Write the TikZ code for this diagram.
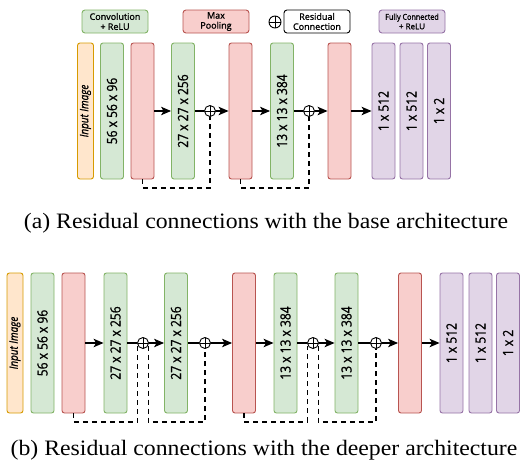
\documentclass[tikz,border=0pt]{standalone}
\usepackage{fontspec}
\usepackage{graphicx}
\setmainfont{Liberation Serif}
\newfontfamily\boxfont[FakeBold=1.2]{Open Sans}
\usetikzlibrary{arrows.meta,calc}
\definecolor{gfill}{HTML}{D5E8D4}\definecolor{gdraw}{HTML}{82B366}
\definecolor{rfill}{HTML}{F8CECC}\definecolor{rdraw}{HTML}{B85450}
\definecolor{ofill}{HTML}{FFE6CC}\definecolor{odraw}{HTML}{D79B00}
\definecolor{pfill}{HTML}{E1D5E7}\definecolor{pdraw}{HTML}{9673A6}
\newcommand{\sqz}[1]{\scalebox{0.86}[1]{#1}}
\newcommand{\capwide}[1]{\scalebox{1.08}[1]{#1}}
\tikzset{
  blk/.style={rectangle, rounded corners=2.5pt, line width=0.9pt, inner sep=0pt, minimum width=23pt, rotate=90, font=\boxfont\fontsize{14}{14}\selectfont},
  toprow/.style={blk, minimum width=136pt},
  botrow/.style={blk, minimum width=140pt},
  conv/.style={fill=gfill, draw=gdraw, minimum height=23pt},
  pool/.style={fill=rfill, draw=rdraw, minimum height=23pt},
  fc/.style={fill=pfill, draw=pdraw, minimum height=23pt},
  inp/.style={fill=ofill, draw=odraw, minimum height=16pt, font=\boxfont\itshape\fontsize{11.5}{11.5}\selectfont},
  oplus/.style={circle, draw, line width=0.9pt, minimum size=11pt, inner sep=0pt, fill=white,
    path picture={\draw[line width=0.9pt] (path picture bounding box.north) -- (path picture bounding box.south)
      (path picture bounding box.west) -- (path picture bounding box.east);}},
  arr/.style={line width=1.1pt, -{Stealth[length=10pt,width=8.5pt,inset=2.5pt]}},
  ln/.style={line width=1.1pt},
  skip/.style={line width=1.1pt, dash pattern=on 5pt off 4pt},
  leg/.style={rectangle, rounded corners=3pt, line width=0.9pt, minimum width=66pt, minimum height=23pt, inner sep=0pt, align=center, font=\boxfont\fontsize{9}{10}\selectfont},
  captxt/.style={font=\fontsize{22}{22}\selectfont, anchor=base, inner sep=0pt}
}
\begin{document}
\begin{tikzpicture}[x=1pt,y=-1pt]
\useasboundingbox (0,0) rectangle (520,466);
% legend
\node[leg, fill=gfill, draw=gdraw] (lconv) at (115,21.5) {Convolution\\+ ReLU};
\node[leg, fill=rfill, draw=rdraw] (lpool) at (216,21.5) {Max\\Pooling};
\node[oplus, minimum size=12pt] (lplus) at (275,22) {};
\node[leg, fill=white, draw=black] (lres) at (317,21.5) {Residual\\Connection};
\node[leg, fill=pfill, draw=pdraw, font=\boxfont\fontsize{8}{9.5}\selectfont] (lfc) at (412,21.5) {\scalebox{0.9}[1]{Fully Connected}\\+ ReLU};
% top row
\node[toprow, inp] (ta) at (85.5,111) {\sqz{Input Image}};
\node[toprow, conv] (tb) at (112,111) {\sqz{56 x 56 x 96}};
\node[toprow, pool] (tp1) at (142.5,111) {};
\node[toprow, conv] (tc) at (183,111) {\sqz{27 x 27 x 256}};
\node[oplus] (to1) at (210,111) {};
\node[toprow, pool] (tp2) at (240.5,111) {};
\node[toprow, conv] (td) at (282,111) {\sqz{13 x 13 x 384}};
\node[oplus] (to2) at (309,111) {};
\node[toprow, pool] (tp3) at (339.5,111) {};
\node[toprow, fc] (tf1) at (383.5,111) {\sqz{1 x 512}};
\node[toprow, fc] (tf2) at (411.5,111) {\sqz{1 x 512}};
\node[toprow, fc] (tf3) at (439,111) {\sqz{1 x 2}};
\draw[arr] (tp1) -- (tc);
\draw[ln] (tc) -- (to1);
\draw[arr] (to1) -- (tp2);
\draw[arr] (tp2) -- (td);
\draw[ln] (td) -- (to2);
\draw[arr] (to2) -- (tp3);
\draw[arr] (tp3) -- (tf1);
\coordinate (tlow) at (0,188);
\draw[skip] (tp1.west) -- (tp1.west |- tlow) -| (to1.south);
\draw[skip] (tp2.west) -- (tp2.west |- tlow) -| (to2.south);
\node[captxt] (capa) at (266,228) {\capwide{(a) Residual connections with the base architecture}};
% bottom row
\node[botrow, inp] (ba) at (15,343) {\sqz{Input Image}};
\node[botrow, conv] (bb) at (42.5,343) {\sqz{56 x 56 x 96}};
\node[botrow, pool] (bp1) at (73.5,343) {};
\node[botrow, conv] (bc1) at (115.5,343) {\sqz{27 x 27 x 256}};
\node[oplus] (bo1) at (143,343) {};
\node[botrow, conv] (bc2) at (176,343) {\sqz{27 x 27 x 256}};
\node[oplus] (bo2) at (205,343) {};
\node[botrow, pool] (bp2) at (244,343) {};
\node[botrow, conv] (bd1) at (285.5,343) {\sqz{13 x 13 x 384}};
\node[oplus] (bo3) at (313,343) {};
\node[botrow, conv] (bd2) at (346.5,343) {\sqz{13 x 13 x 384}};
\node[oplus] (bo4) at (376,343) {};
\node[botrow, pool] (bp3) at (410,343) {};
\node[botrow, fc] (bf1) at (451.5,343) {\sqz{1 x 512}};
\node[botrow, fc] (bf2) at (480.5,343) {\sqz{1 x 512}};
\node[botrow, fc] (bf3) at (508,343) {\sqz{1 x 2}};
\draw[arr] (bp1) -- (bc1);
\draw[ln] (bc1) -- (bo1);
\draw[arr] (bo1) -- (bc2);
\draw[ln] (bc2) -- (bo2);
\draw[arr] (bo2) -- (bp2);
\draw[arr] (bp2) -- (bd1);
\draw[ln] (bd1) -- (bo3);
\draw[arr] (bo3) -- (bd2);
\draw[ln] (bd2) -- (bo4);
\draw[arr] (bo4) -- (bp3);
\draw[arr] (bp3) -- (bf1);
\coordinate (blow) at (0,422);
\draw[skip] (bp1.west) -- (bp1.west |- blow) -| (bo1.-155);
\draw[skip] (bo1.-25) -- (bo1.-25 |- blow) -| (bo2.south);
\draw[skip] (bp2.west) -- (bp2.west |- blow) -| (bo3.-155);
\draw[skip] (bo3.-25) -- (bo3.-25 |- blow) -| (bo4.south);
\node[captxt] (capb) at (264,455) {\capwide{(b) Residual connections with the deeper architecture}};
\end{tikzpicture}
\end{document}
